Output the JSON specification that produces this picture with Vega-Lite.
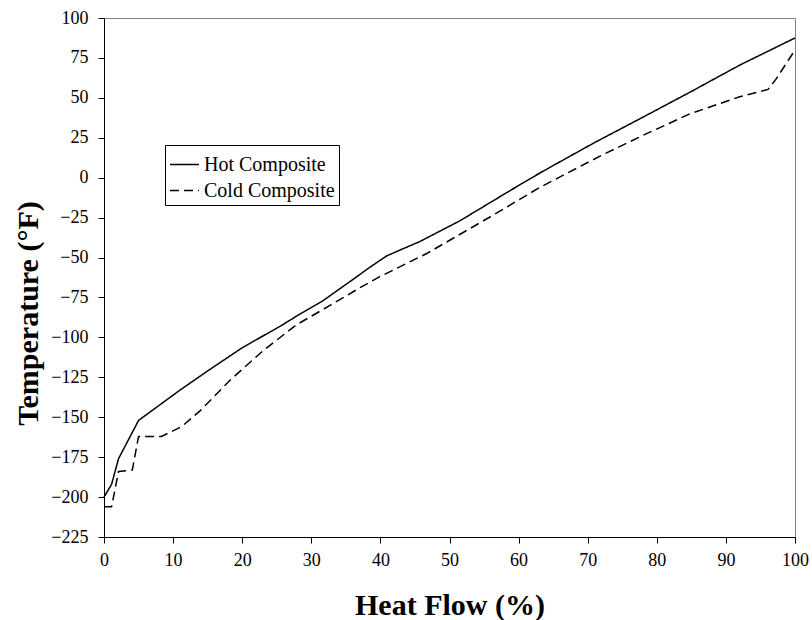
{
  "$schema": "https://vega.github.io/schema/vega-lite/v6.json",
  "width": 691,
  "height": 519,
  "autosize": "none",
  "padding": {"left": 104, "top": 18, "right": 17, "bottom": 83},
  "background": "white",
  "config": {
    "view": {"stroke": "#808080", "strokeWidth": 1},
    "font": "Liberation Serif"
  },
  "data": {
    "values": [
      {"series": "Hot Composite", "x": 0, "y": -200},
      {"series": "Hot Composite", "x": 1.1, "y": -192},
      {"series": "Hot Composite", "x": 2.1, "y": -176},
      {"series": "Hot Composite", "x": 5.0, "y": -152},
      {"series": "Hot Composite", "x": 8, "y": -142.5},
      {"series": "Hot Composite", "x": 11, "y": -133},
      {"series": "Hot Composite", "x": 15, "y": -121},
      {"series": "Hot Composite", "x": 20, "y": -106.5},
      {"series": "Hot Composite", "x": 25.5, "y": -93},
      {"series": "Hot Composite", "x": 28.5, "y": -85},
      {"series": "Hot Composite", "x": 31.7, "y": -77},
      {"series": "Hot Composite", "x": 36.1, "y": -63.5},
      {"series": "Hot Composite", "x": 38.5, "y": -56},
      {"series": "Hot Composite", "x": 40.9, "y": -49},
      {"series": "Hot Composite", "x": 43, "y": -45},
      {"series": "Hot Composite", "x": 45.7, "y": -40},
      {"series": "Hot Composite", "x": 51.5, "y": -27},
      {"series": "Hot Composite", "x": 58.8, "y": -8},
      {"series": "Hot Composite", "x": 63.1, "y": 3},
      {"series": "Hot Composite", "x": 66, "y": 10},
      {"series": "Hot Composite", "x": 71, "y": 22},
      {"series": "Hot Composite", "x": 77.6, "y": 37},
      {"series": "Hot Composite", "x": 85, "y": 54},
      {"series": "Hot Composite", "x": 92, "y": 70.5},
      {"series": "Hot Composite", "x": 100, "y": 87.5},
      {"series": "Cold Composite", "x": 0, "y": -206},
      {"series": "Cold Composite", "x": 1.1, "y": -206},
      {"series": "Cold Composite", "x": 2.1, "y": -184},
      {"series": "Cold Composite", "x": 4.1, "y": -183},
      {"series": "Cold Composite", "x": 5.0, "y": -162},
      {"series": "Cold Composite", "x": 8.3, "y": -162},
      {"series": "Cold Composite", "x": 11.2, "y": -156},
      {"series": "Cold Composite", "x": 13.9, "y": -146},
      {"series": "Cold Composite", "x": 18.2, "y": -127},
      {"series": "Cold Composite", "x": 23.1, "y": -108},
      {"series": "Cold Composite", "x": 27.9, "y": -92},
      {"series": "Cold Composite", "x": 32.7, "y": -80},
      {"series": "Cold Composite", "x": 37, "y": -69},
      {"series": "Cold Composite", "x": 39.9, "y": -62},
      {"series": "Cold Composite", "x": 46.7, "y": -47.5},
      {"series": "Cold Composite", "x": 56.3, "y": -23.5},
      {"series": "Cold Composite", "x": 63.1, "y": -6},
      {"series": "Cold Composite", "x": 66, "y": 0.5},
      {"series": "Cold Composite", "x": 72, "y": 14},
      {"series": "Cold Composite", "x": 77.6, "y": 25.7},
      {"series": "Cold Composite", "x": 84.8, "y": 40},
      {"series": "Cold Composite", "x": 92, "y": 50.7},
      {"series": "Cold Composite", "x": 96.1, "y": 55.3},
      {"series": "Cold Composite", "x": 97.3, "y": 62},
      {"series": "Cold Composite", "x": 100, "y": 80}
    ]
  },
  "mark": {"type": "line", "color": "black", "strokeWidth": 1.5},
  "encoding": {
    "x": {
      "field": "x",
      "type": "quantitative",
      "scale": {"domain": [0, 100], "nice": false},
      "axis": {
        "values": [0, 10, 20, 30, 40, 50, 60, 70, 80, 90, 100],
        "grid": false,
        "domainColor": "black",
        "tickColor": "black",
        "tickSize": 6,
        "labelColor": "black",
        "labelFont": "Liberation Serif",
        "labelFontSize": 18,
        "labelPadding": 8,
        "labelFlush": false,
        "title": "Heat Flow (%)",
        "titleFont": "Liberation Serif",
        "titleFontSize": 30,
        "titleFontWeight": "bold",
        "titleColor": "black",
        "titleBaseline": "alphabetic",
        "titleY": 77
      }
    },
    "y": {
      "field": "y",
      "type": "quantitative",
      "scale": {"domain": [-225, 100], "nice": false, "zero": false},
      "axis": {
        "values": [-225, -200, -175, -150, -125, -100, -75, -50, -25, 0, 25, 50, 75, 100],
        "grid": false,
        "domainColor": "black",
        "tickColor": "black",
        "tickSize": 6,
        "labelColor": "black",
        "labelFont": "Liberation Serif",
        "labelFontSize": 18,
        "labelPadding": 10,
        "labelFlush": false,
        "title": "Temperature (°F)",
        "titleFont": "Liberation Serif",
        "titleFontSize": 30,
        "titleFontWeight": "bold",
        "titleColor": "black",
        "titleBaseline": "alphabetic",
        "titleX": -67,
        "titleY": 295
      }
    },
    "strokeDash": {
      "field": "series",
      "type": "nominal",
      "scale": {"domain": ["Hot Composite", "Cold Composite"], "range": [[1, 0], [9, 5]]},
      "legend": {
        "title": null,
        "orient": "none",
        "legendX": 61,
        "legendY": 127,
        "strokeColor": "black",
        "fillColor": "white",
        "padding": 4,
        "symbolType": "stroke",
        "symbolSize": 841,
        "symbolStrokeWidth": 1.5,
        "symbolStrokeColor": "black",
        "labelFont": "Liberation Serif",
        "labelFontSize": 20,
        "labelColor": "black",
        "labelOffset": 4,
        "rowPadding": 0
      }
    }
  }
}
